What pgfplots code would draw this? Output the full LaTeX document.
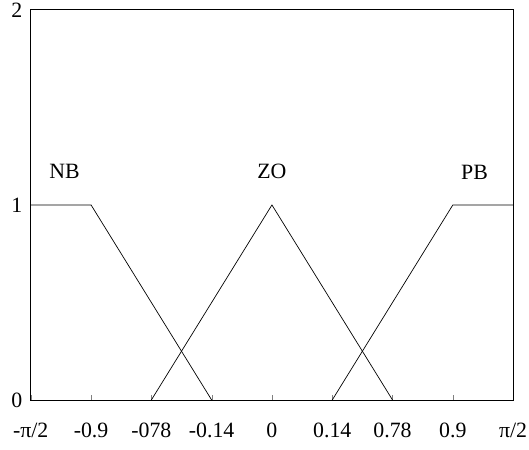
\documentclass[border=0pt]{standalone}
\usepackage{fontspec}
\setmainfont{Liberation Serif}
\usepackage{pgfplots}
\pgfplotsset{compat=1.18}
\begin{document}
\begin{tikzpicture}
\begin{axis}[
  at={(0,0)}, anchor=south west,
  scale only axis,
  width=486pt, height=393pt,
  xmin=0, xmax=8, ymin=0, ymax=2,
  xtick={0,1,2,3,4,5,6,7,8},
  xticklabels={-π/2,-0.9,-078,-0.14,0,0.14,0.78,0.9,π/2},
  ytick={0,1,2},
  yticklabels={0,1,2},
  xtick pos=bottom, tick align=inside,
  major tick length=5pt,
  ytick style={draw=none},
  tick label style={font=\fontsize{22}{26}\selectfont},
  xticklabel style={text height=15pt, text depth=4pt, yshift=-19pt},
  yticklabel style={xshift=-5pt},
  /pgf/number format/assume math mode=true,
  axis line style={line width=0.9pt},
  clip=false,
]
\addplot[black, line width=0.7pt, no markers] coordinates {(0,1) (1,1) (3,0)};
\addplot[black, line width=0.7pt, no markers] coordinates {(2,0) (4,1) (6,0)};
\addplot[black, line width=0.7pt, no markers] coordinates {(5,0) (7,1) (8,1)};
\node[font=\fontsize{22}{26}\selectfont] at (axis cs:0.56,1.17) {NB};
\node[font=\fontsize{22}{26}\selectfont] at (axis cs:4,1.17) {ZO};
\node[font=\fontsize{22}{26}\selectfont] at (axis cs:7.36,1.165) {PB};
\end{axis}
\pgfresetboundingbox
\path (-31pt,-50pt) rectangle (502pt,403pt);
\end{tikzpicture}
\end{document}
